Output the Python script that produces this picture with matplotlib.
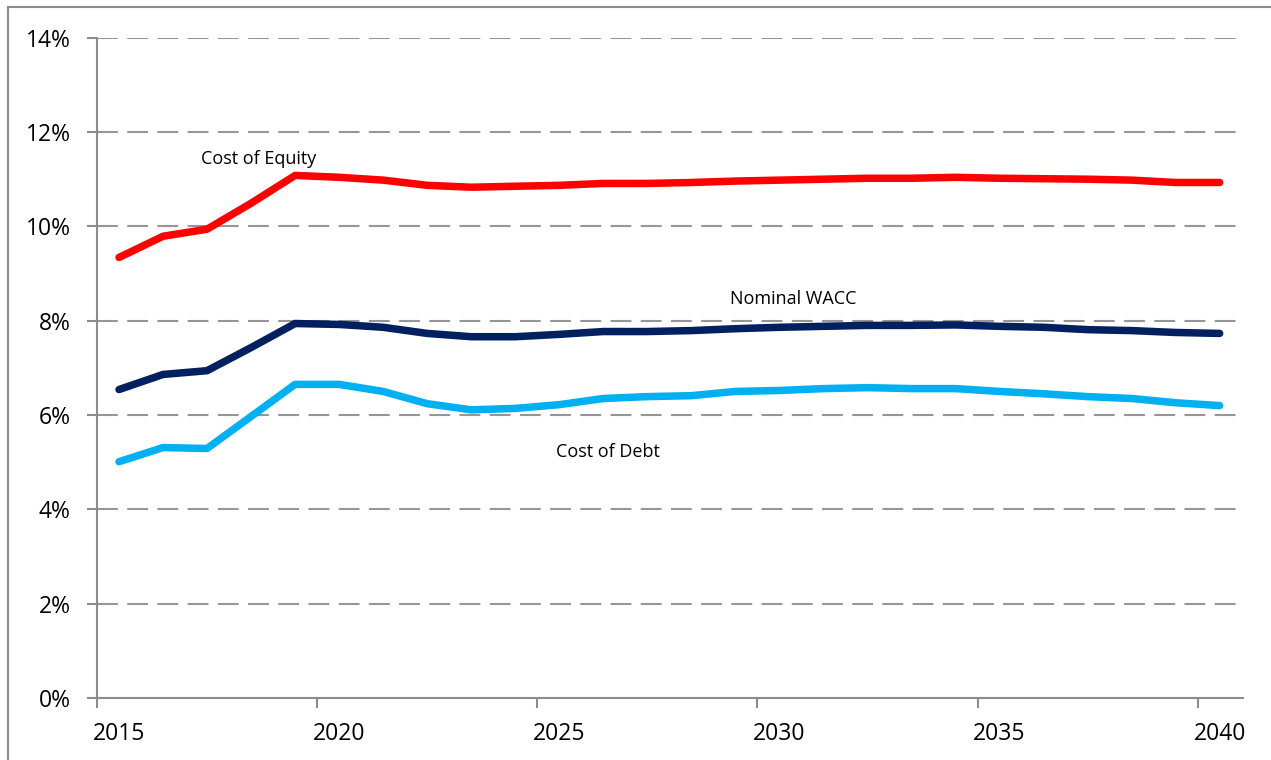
import matplotlib
matplotlib.use("Agg")
import matplotlib.pyplot as plt
import matplotlib.patches as patches
from matplotlib.ticker import FuncFormatter

plt.rcParams['font.family'] = ['Open Sans', 'DejaVu Sans']

# mid-year points, 2015..2040
years = [y + 0.5 for y in range(2015, 2041)]

cost_of_equity = [9.34, 9.79, 9.94, 10.49, 11.08, 11.04, 10.98, 10.87, 10.83, 10.85,
                  10.87, 10.91, 10.91, 10.93, 10.96, 10.98, 11.00, 11.02, 11.02, 11.04,
                  11.02, 11.01, 11.00, 10.98, 10.93, 10.93]
nominal_wacc = [6.54, 6.86, 6.94, 7.43, 7.94, 7.92, 7.86, 7.73, 7.66, 7.66,
                7.71, 7.77, 7.77, 7.79, 7.83, 7.86, 7.88, 7.90, 7.90, 7.91,
                7.88, 7.86, 7.81, 7.79, 7.75, 7.73]
cost_of_debt = [5.01, 5.31, 5.29, 5.97, 6.65, 6.65, 6.50, 6.24, 6.11, 6.14,
                6.22, 6.35, 6.39, 6.41, 6.50, 6.52, 6.56, 6.58, 6.56, 6.56,
                6.50, 6.45, 6.39, 6.35, 6.26, 6.20]

tick_years = [2015, 2020, 2025, 2030, 2035, 2040]
y_ticks = [0, 2, 4, 6, 8, 10, 12, 14]

axis_grey = '#8c8c8c'

fig = plt.figure(figsize=(12.71, 7.60), dpi=100)
ax = fig.add_axes([97 / 1271, 1 - 698 / 760, (1243 - 97) / 1271, (698 - 37.7) / 760])

# outer chart border (only top and left visible in the crop)
fig.patches.append(patches.Rectangle((8 / 1271, -0.05), 1.1, 1 - 7 / 760 + 0.05,
                                     transform=fig.transFigure, fill=False,
                                     edgecolor=axis_grey, linewidth=1.5))

for yv in y_ticks[1:]:
    ax.axhline(yv, color='#969696', linewidth=1.5, dashes=(10, 4.5), zorder=1)

ax.plot(years, cost_of_equity, color='#FF0000', linewidth=5.4, solid_capstyle='round', zorder=3)
ax.plot(years, nominal_wacc, color='#002060', linewidth=5.4, solid_capstyle='round', zorder=3)
ax.plot(years, cost_of_debt, color='#00B0F0', linewidth=5.4, solid_capstyle='round', zorder=3)

ax.set_xlim(2015, 2041.03)
ax.set_ylim(0, 14)

ax.set_yticks(y_ticks)
ax.yaxis.set_major_formatter(FuncFormatter(lambda v, p: f"{v:.0f}%"))
ax.set_xticks(tick_years)
ax.set_xticklabels([])
for ty in tick_years:
    ax.text(ty + 0.5, -0.5, str(ty), ha='center', va='top', fontsize=16.5, color='black')

for side in ['top', 'right']:
    ax.spines[side].set_visible(False)
for side in ['left', 'bottom']:
    ax.spines[side].set_color(axis_grey)
    ax.spines[side].set_linewidth(1.5)
ax.tick_params(axis='both', direction='out', length=7, width=1.5, color=axis_grey,
               labelsize=16.5, labelcolor='black')
ax.tick_params(axis='y', pad=12)

ax.text(2018.66, 11.42, 'Cost of Equity', fontsize=13, ha='center', va='center')
ax.text(2030.82, 8.45, 'Nominal WACC', fontsize=13, ha='center', va='center')
ax.text(2026.61, 5.22, 'Cost of Debt', fontsize=13, ha='center', va='center')

fig.savefig('out.png', dpi=100)
